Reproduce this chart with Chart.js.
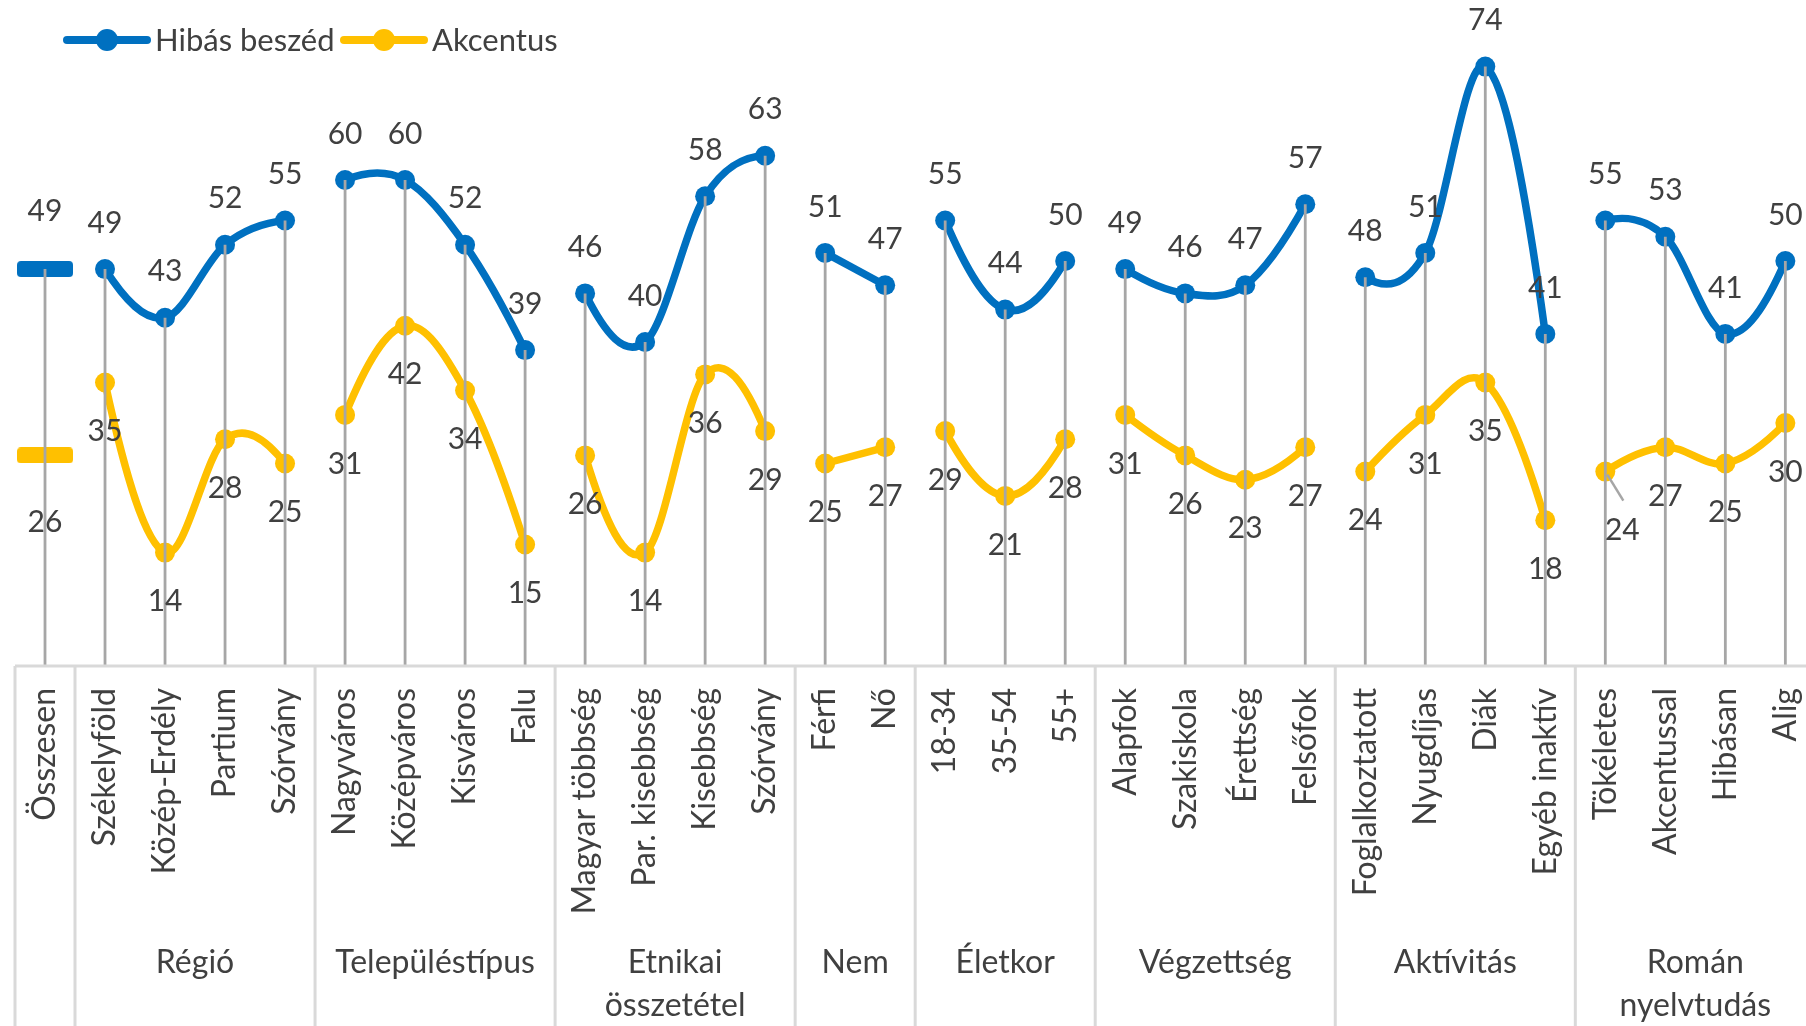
<!DOCTYPE html>
<html>
<head>
<meta charset="utf-8">
<script src="https://cdn.jsdelivr.net/npm/chart.js@4"></script>
<style>
  html, body { margin: 0; padding: 0; background: #fff; overflow: hidden; }
  #wrap { width: 1806px; height: 1026px; overflow: hidden; }
</style>
</head>
<body>
<div id="wrap"><canvas id="chart" width="1846" height="1026"></canvas></div>
<script>
const categories = ['Összesen', 'Székelyföld', 'Közép-Erdély', 'Partium', 'Szórvány',
  'Nagyváros', 'Középváros', 'Kisváros', 'Falu',
  'Magyar többség', 'Par. kisebbség', 'Kisebbség', 'Szórvány',
  'Férfi', 'Nő', '18-34', '35-54', '55+',
  'Alapfok', 'Szakiskola', 'Érettség', 'Felsőfok',
  'Foglalkoztatott', 'Nyugdíjas', 'Diák', 'Egyéb inaktív',
  'Tökéletes', 'Akcentussal', 'Hibásan', 'Alig'];
const groupNames = [[''], ['Régió'], ['Településtípus'], ['Etnikai', 'összetétel'], ['Nem'],
  ['Életkor'], ['Végzettség'], ['Aktívitás'], ['Román', 'nyelvtudás']];
const groupSizes = [1, 4, 4, 4, 2, 3, 4, 4, 4];
const hibasBeszed = [49, 49, 43, 52, 55, 60, 60, 52, 39, 46, 40, 58, 63, 51, 47, 55, 44, 50,
  49, 46, 47, 57, 48, 51, 74, 41, 55, 53, 41, 50];
const akcentus = [26, 35, 14, 28, 25, 31, 42, 34, 15, 26, 14, 36, 29, 25, 27, 29, 21, 28,
  31, 26, 23, 27, 24, 31, 35, 18, 24, 27, 25, 30];

const BLUE = '#0070C0', YELLOW = '#FFC000', TEXT = '#404040', GRID = '#d9d9d9', DROP = '#a6a6a6';
const FONT = 'Lato, "Open Sans", sans-serif';
const FS = 30;       // value labels
const FS_AXIS = 32;  // category and group labels
const FS_LEGEND = 31;

const groupStarts = [];
groupSizes.reduce((s, n) => { groupStarts.push(s); return s + n; }, 0);

// short bar used as the marker of the one-point group (Összesen)
function dash(color) {
  const c = document.createElement('canvas');
  c.width = 56; c.height = 16;
  const g = c.getContext('2d');
  g.fillStyle = color;
  g.beginPath(); g.roundRect(0, 0, 56, 16, 4); g.fill();
  return c;
}

// one dataset per group so that the lines break between groups
function groupDatasets(values, name, color) {
  return groupSizes.map((n, gi) => {
    const s = groupStarts[gi];
    return {
      label: name,
      single: n === 1,
      data: values.map((v, i) => (i >= s && i < s + n ? v : null)),
      borderColor: color,
      backgroundColor: color,
      borderWidth: 7.5,
      tension: 0.4,
      pointRadius: 10,
      pointHoverRadius: 10,
      pointBorderWidth: 0,
      pointStyle: n === 1 ? dash(color) : 'circle',
      spanGaps: false
    };
  });
}

const series = [
  { name: 'Hibás beszéd', values: hibasBeszed, color: BLUE, dy: -46, dySingle: -58 },
  { name: 'Akcentus', values: akcentus, color: YELLOW, dy: 49, dySingle: 67 }
];

// Excel-like smoothing: Catmull-Rom inside, mostly parabolic ends
const smooth = {
  id: 'smooth',
  beforeDatasetDraw(chart, args) {
    const meta = args.meta;
    meta.dataset.updateControlPoints(chart.chartArea, 'x');
    const pts = meta.data.filter(p => !p.skip);
    const n = pts.length;
    if (n < 2) return;
    const arm = pts.map((p, i) => {
      const a = pts[Math.max(i - 1, 0)], b = pts[Math.min(i + 1, n - 1)];
      return { x: (b.x - a.x) / 6, y: (b.y - a.y) / 6 };
    });
    const endArm = (p, q, inner) => {
      const w = 0.75;
      const px = (2 * (q.x - p.x) - 3 * inner.x) / 3, py = (2 * (q.y - p.y) - 3 * inner.y) / 3;
      return { x: w * px + (1 - w) * (q.x - p.x) / 3, y: w * py + (1 - w) * (q.y - p.y) / 3 };
    };
    if (n === 2) {
      arm[0] = arm[1] = { x: (pts[1].x - pts[0].x) / 3, y: (pts[1].y - pts[0].y) / 3 };
    } else {
      const l = n - 1;
      arm[0] = endArm(pts[0], pts[1], arm[1]);
      arm[l] = endArm(pts[l - 1], pts[l], arm[l - 1]);
    }
    pts.forEach((p, i) => {
      p.cp1x = p.x - arm[i].x; p.cp1y = p.y - arm[i].y;
      p.cp2x = p.x + arm[i].x; p.cp2y = p.y + arm[i].y;
    });
  }
};

const decor = {
  id: 'decor',
  afterDatasetsDraw(chart) {
    const { ctx, scales: { x, y } } = chart;
    ctx.save();
    // drop lines from the higher point to the axis
    ctx.strokeStyle = DROP;
    ctx.lineWidth = 2.8;
    categories.forEach((c, i) => {
      const top = Math.max(hibasBeszed[i], akcentus[i]);
      const px = x.getPixelForValue(i);
      ctx.beginPath();
      ctx.moveTo(px, y.getPixelForValue(top));
      ctx.lineTo(px, y.getPixelForValue(0));
      ctx.stroke();
    });
    // value labels
    ctx.font = FS + 'px ' + FONT;
    ctx.fillStyle = TEXT;
    ctx.textAlign = 'center';
    ctx.textBaseline = 'middle';
    chart.data.datasets.forEach((ds, di) => {
      const s = series.find(o => o.name === ds.label);
      chart.getDatasetMeta(di).data.forEach((pt, i) => {
        const v = ds.data[i];
        if (v === null) return;
        let dx = 0, dy = ds.single ? s.dySingle : s.dy;
        if (s.values === akcentus && categories[i] === 'Tökéletes') {
          dx = 17; dy = 59;
          ctx.strokeStyle = DROP;
          ctx.lineWidth = 2.5;
          ctx.beginPath();
          ctx.moveTo(pt.x + 2, pt.y + 3);
          ctx.lineTo(pt.x + 18, pt.y + 29);
          ctx.stroke();
        }
        ctx.fillText(String(v), pt.x + dx, pt.y + dy);
      });
    });
    ctx.restore();
  },
  afterDraw(chart) {
    const { ctx, chartArea, scales: { x } } = chart;
    const bottom = chart.height;
    ctx.save();
    ctx.strokeStyle = GRID;
    ctx.lineWidth = 3;
    ctx.beginPath();
    ctx.moveTo(chartArea.left, chartArea.bottom);
    ctx.lineTo(chartArea.right, chartArea.bottom);
    ctx.stroke();
    ctx.font = FS_AXIS + 'px ' + FONT;
    ctx.fillStyle = TEXT;
    ctx.textAlign = 'center';
    ctx.textBaseline = 'alphabetic';
    const half = (x.getPixelForValue(1) - x.getPixelForValue(0)) / 2;
    groupSizes.forEach((n, gi) => {
      const s = groupStarts[gi];
      const left = x.getPixelForValue(s) - half;
      const right = x.getPixelForValue(s + n - 1) + half;
      ctx.beginPath();
      ctx.moveTo(left, chartArea.bottom);
      ctx.lineTo(left, bottom);
      ctx.stroke();
      groupNames[gi].forEach((line, li) => {
        ctx.fillText(line, (left + right) / 2, 973 + li * 43);
      });
    });
    // legend
    ctx.font = FS_LEGEND + 'px ' + FONT;
    ctx.textAlign = 'left';
    ctx.lineCap = 'round';
    [67, 344].forEach((lx, k) => {
      const s = series[k];
      ctx.strokeStyle = s.color;
      ctx.fillStyle = s.color;
      ctx.lineWidth = 8;
      ctx.beginPath();
      ctx.moveTo(lx, 40);
      ctx.lineTo(lx + 80, 40);
      ctx.stroke();
      ctx.beginPath();
      ctx.arc(lx + 40, 40, 11, 0, Math.PI * 2);
      ctx.fill();
      ctx.fillStyle = TEXT;
      ctx.fillText(s.name, lx + 88, 51);
    });
    ctx.restore();
  }
};

new Chart(document.getElementById('chart'), {
  type: 'line',
  data: {
    labels: categories,
    datasets: series.flatMap(s => groupDatasets(s.values, s.name, s.color))
  },
  options: {
    responsive: false,
    animation: false,
    layout: { padding: { top: 18, left: 15, right: 15, bottom: 0 } },
    plugins: { legend: { display: false }, tooltip: { enabled: false } },
    scales: {
      x: {
        offset: true,
        grid: { display: false, drawTicks: false },
        border: { display: false },
        ticks: {
          autoSkip: false,
          minRotation: 90,
          maxRotation: 90,
          padding: 22,
          color: TEXT,
          font: { family: FONT, size: FS_AXIS }
        },
        afterFit: s => { s.height = 360; }
      },
      y: {
        display: false,
        min: 0,
        max: 80
      }
    }
  },
  plugins: [smooth, decor]
});
</script>
</body>
</html>
